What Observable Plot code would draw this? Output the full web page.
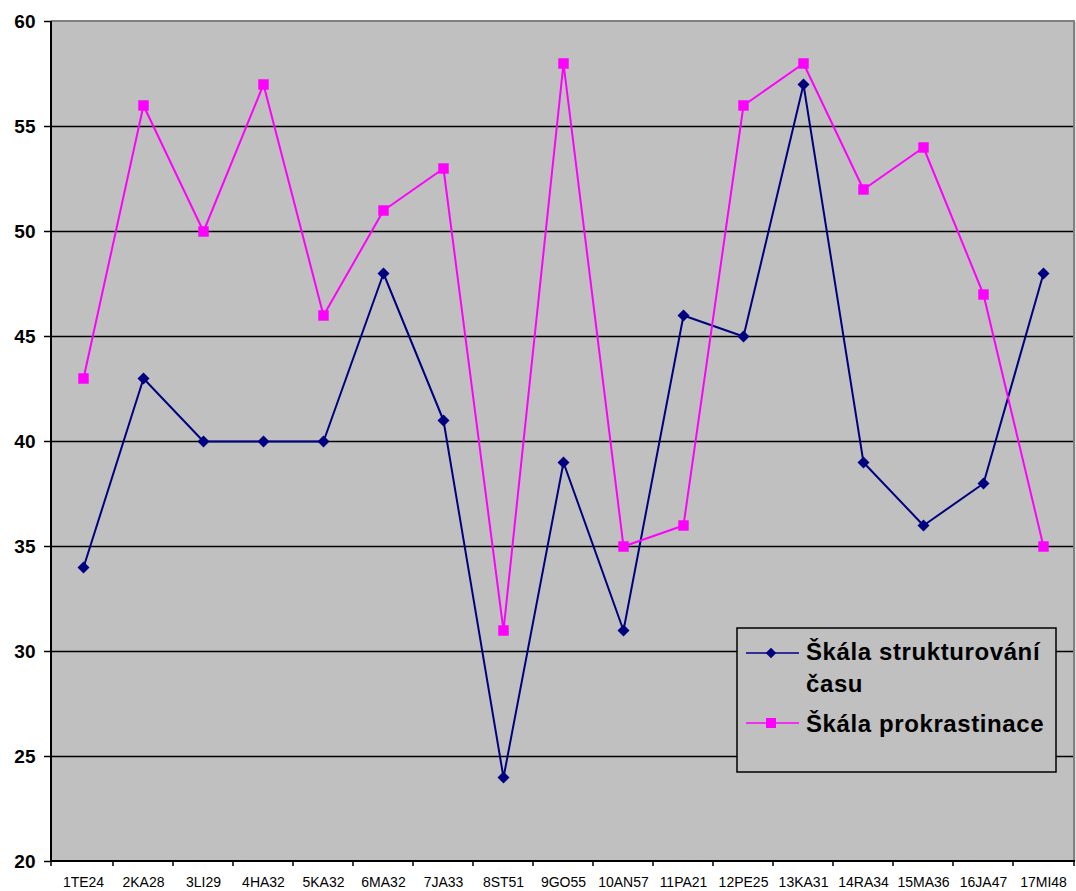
<!DOCTYPE html>
<html><head><meta charset="utf-8">
<script src="https://cdn.jsdelivr.net/npm/d3@7"></script>
<script src="https://cdn.jsdelivr.net/npm/@observablehq/plot@0.6"></script>
<style>body{margin:0;background:#fff;overflow:hidden} svg{display:block}</style>
</head><body><div id="chart"></div>
<script>
const categories = ["1TE24","2KA28","3LI29","4HA32","5KA32","6MA32","7JA33","8ST51","9GO55","10AN57","11PA21","12PE25","13KA31","14RA34","15MA36","16JA47","17MI48"];
const strukturovani = [34, 43, 40, 40, 40, 48, 41, 24, 39, 31, 46, 45, 57, 39, 36, 38, 48];
const prokrastinace = [43, 56, 50, 57, 46, 51, 53, 31, 58, 35, 36, 56, 58, 52, 54, 47, 35];
const yTicks = [20, 25, 30, 35, 40, 45, 50, 55, 60];
const seriesNames = ["Škála strukturování času", "Škála prokrastinace"];
const legendLines = [["Škála strukturování", "času"], ["Škála prokrastinace"]];
const seriesColors = ["#000080", "#ff00ff"];

const dataS = categories.map((c, i) => ({cat: c, value: strukturovani[i]}));
const dataP = categories.map((c, i) => ({cat: c, value: prokrastinace[i]}));

const FONT = "'Liberation Sans', Arial, sans-serif";

function frameLines(index, scales, values, dims) {
  const ns = "http://www.w3.org/2000/svg";
  const g = document.createElementNS(ns, "g");
  const L = dims.marginLeft, R = dims.width - dims.marginRight, T = dims.marginTop, B = dims.height - dims.marginBottom;
  const add = (x1, y1, x2, y2, stroke, w) => {
    const l = document.createElementNS(ns, "line");
    l.setAttribute("x1", x1); l.setAttribute("y1", y1); l.setAttribute("x2", x2); l.setAttribute("y2", y2);
    l.setAttribute("stroke", stroke); l.setAttribute("stroke-width", w);
    g.appendChild(l);
  };
  add(L, T, R, T, "#808080", 2);
  add(R - 1, T, R - 1, B, "#808080", 2);
  add(L, T, L, B + 1, "#000", 2);
  add(L - 1, B, R, B, "#000", 2);
  const x0 = scales.x(categories[0]), step = scales.x(categories[1]) - x0;
  for (let i = 1; i < categories.length; i++) {
    const xx = x0 - step / 2 + i * step;
    add(xx, B, xx, B + 5, "#000", 1.5);
  }
  add(L, B, L, B + 5, "#000", 1.5);
  add(R - 1, B, R - 1, B + 5, "#000", 1.5);
  return g;
}

function legend(index, scales, values, dims) {
  const ns = "http://www.w3.org/2000/svg";
  const g = document.createElementNS(ns, "g");
  g.setAttribute("text-anchor", "start");
  const bx = 737, by = 628, bw = 319, bh = 144;
  const rect = document.createElementNS(ns, "rect");
  rect.setAttribute("x", bx); rect.setAttribute("y", by); rect.setAttribute("width", bw); rect.setAttribute("height", bh);
  rect.setAttribute("fill", "#c0c0c0"); rect.setAttribute("stroke", "#000"); rect.setAttribute("stroke-width", 1.5);
  g.appendChild(rect);
  const lineY = [653, 723];
  const textY = [[660, 692], [732]];
  seriesNames.forEach((name, i) => {
    const l = document.createElementNS(ns, "line");
    l.setAttribute("x1", 746); l.setAttribute("x2", 799); l.setAttribute("y1", lineY[i]); l.setAttribute("y2", lineY[i]);
    l.setAttribute("stroke", seriesColors[i]); l.setAttribute("stroke-width", 1.5);
    g.appendChild(l);
    const m = document.createElementNS(ns, "rect");
    const s = i === 0 ? 7.5 : 10;
    m.setAttribute("x", 771 - s / 2); m.setAttribute("y", lineY[i] - s / 2); m.setAttribute("width", s); m.setAttribute("height", s);
    m.setAttribute("fill", seriesColors[i]);
    if (i === 0) m.setAttribute("transform", `rotate(45 771 ${lineY[i]})`);
    g.appendChild(m);
    legendLines[i].forEach((txt, j) => {
      const t = document.createElementNS(ns, "text");
      t.setAttribute("x", 806); t.setAttribute("y", textY[i][j]);
      t.setAttribute("text-anchor", "start");
      t.setAttribute("font-size", 24); t.setAttribute("font-weight", "bold");
      t.setAttribute("font-family", FONT); t.setAttribute("letter-spacing", "0.6");
      t.setAttribute("fill", "#000");
      t.textContent = txt;
      g.appendChild(t);
    });
  });
  return g;
}

const chart = Plot.plot({
  width: 1076, height: 891,
  marginLeft: 51, marginRight: 1, marginTop: 21, marginBottom: 30,
  style: {background: "#fff", fontFamily: FONT, color: "#000"},
  x: {type: "point", domain: categories, range: [80, 1045], padding: 0, label: null},
  y: {domain: [20, 60], label: null},
  marks: [
    Plot.frame({fill: "#c0c0c0", stroke: null}),
    Plot.ruleY(yTicks.slice(1, -1), {stroke: "#000", strokeWidth: 1.4}),
    frameLines,
    Plot.axisY({ticks: yTicks, tickSize: 7, tickPadding: 9, fontSize: 19, fontWeight: "bold", stroke: "#000", strokeWidth: 1.5, strokeOpacity: 1, label: null}),
    Plot.axisX({tickSize: 0, tickPadding: 16, fontSize: 14, label: null}),
    Plot.line(dataS, {x: "cat", y: "value", stroke: seriesColors[0], strokeWidth: 2}),
    Plot.line(dataP, {x: "cat", y: "value", stroke: seriesColors[1], strokeWidth: 2}),
    Plot.dot(dataS, {x: "cat", y: "value", symbol: "square", rotate: 45, r: 4.8, fill: seriesColors[0], stroke: null}),
    Plot.dot(dataP, {x: "cat", y: "value", symbol: "square", r: 5.9, fill: seriesColors[1], stroke: null}),
    legend
  ]
});
document.getElementById("chart").appendChild(chart);
</script>
</body></html>
